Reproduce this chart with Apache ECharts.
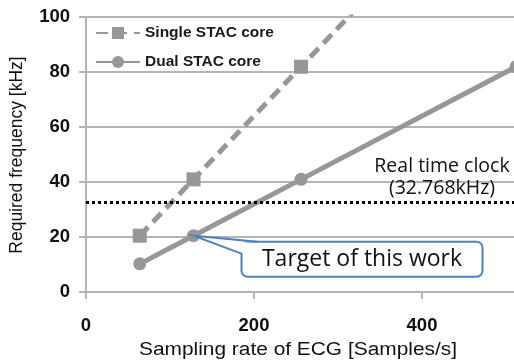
<!DOCTYPE html>
<html><head><meta charset="utf-8">
<script src="https://cdn.jsdelivr.net/npm/echarts@6/dist/echarts.min.js"></script>
<style>html,body{margin:0;padding:0;background:#fff}#c{width:514px;height:360px}</style>
</head><body><div id="c"></div>
<script>
const samplingRates = [64, 128, 256, 512];
const singleCore = [20.48, 40.96, 81.92, 163.84];
const dualCore = [10.24, 20.48, 40.96, 81.92];
const rtcFreq = 32.768;
const seriesNames = ['Single STAC core', 'Dual STAC core'];
const xTicks = [0, 200, 400, 600];
const yTicks = [0, 20, 40, 60, 80, 100];
const targetPoint = [128, 20.48];

const chart = echarts.init(document.getElementById('c'));
const gray = '#979797';
const gridCol = '#b4b4b4';
chart.setOption({
  animation: false,
  grid: { left: 86, top: 17, bottom: 68, width: 504, outerBoundsMode: 'none', containLabel: false },
  legend: {
    left: 90, top: 20, orient: 'vertical', itemGap: 13, itemWidth: 44, itemHeight: 15,
    textStyle: { fontFamily: 'Liberation Sans', fontWeight: 'bold', fontSize: 15.5, color: '#1a1a1a' },
    data: seriesNames
  },
  xAxis: {
    type: 'value', min: xTicks[0], max: xTicks[xTicks.length - 1], interval: 200,
    axisLine: { lineStyle: { color: gridCol, width: 2 } },
    axisTick: { show: true, length: 7, lineStyle: { color: gridCol, width: 2 } },
    axisLabel: { margin: 24, fontFamily: 'Liberation Sans', fontWeight: 'bold', fontSize: 18.5, color: '#111' },
    splitLine: { show: false }
  },
  yAxis: {
    type: 'value', min: yTicks[0], max: yTicks[yTicks.length - 1], interval: 20,
    axisLine: { show: true, lineStyle: { color: gridCol, width: 2 } },
    axisTick: { show: true, length: 7, lineStyle: { color: gridCol, width: 2 } },
    axisLabel: { margin: 16, fontFamily: 'Liberation Sans', fontWeight: 'bold', fontSize: 18.5, color: '#111' },
    splitLine: { show: true, lineStyle: { color: gridCol, width: 2 } }
  },
  series: [
    {
      name: seriesNames[0], type: 'line', clip: true,
      data: samplingRates.map((x, i) => [x, singleCore[i]]),
      symbol: 'rect', symbolSize: 14,
      lineStyle: { color: gray, width: 5, type: [12, 7] },
      itemStyle: { color: gray }
    },
    {
      name: seriesNames[1], type: 'line', clip: false,
      data: samplingRates.map((x, i) => [x, dualCore[i]]),
      symbol: 'circle', symbolSize: 13,
      lineStyle: { color: gray, width: 5 },
      itemStyle: { color: gray },
      markLine: {
        silent: true, symbol: 'none', label: { show: false },
        lineStyle: { color: '#000', width: 3, type: [3, 3] },
        data: [{ yAxis: rtcFreq }]
      }
    }
  ]
});

const p = chart.convertToPixel({ seriesIndex: 1 }, targetPoint);
const rtc = chart.convertToPixel({ seriesIndex: 1 }, [0, rtcFreq]);
const bx = p[0] + 48, by = p[1] + 6, bw = 241, bh = 35;
const blue = '#4f81bd';
chart.setOption({
  graphic: [
    { type: 'text', x: 298, y: 350, scaleX: 1.16, style: { text: 'Sampling rate of ECG [Samples/s]', fontFamily: 'Liberation Sans', fontSize: 18, fill: '#111', align: 'center', verticalAlign: 'middle' } },
    { type: 'text', x: 17, y: 155, rotation: Math.PI / 2, style: { text: 'Required frequency [kHz]', fontFamily: 'Liberation Sans', fontSize: 17.5, fill: '#111', align: 'center', verticalAlign: 'middle' } },
    { type: 'text', x: 442, y: rtc[1] - 24, style: { text: 'Real time clock\n(32.768kHz)', fontFamily: 'Open Sans', fontSize: 19.5, lineHeight: 22, fill: '#111', align: 'center', verticalAlign: 'middle' }, z: 10 },
    { type: 'rect', shape: { x: bx, y: by, width: bw, height: bh, r: 6 }, style: { fill: '#fff', stroke: blue, lineWidth: 2 }, z: 20 },
    { type: 'polygon', shape: { points: [[bx + 2, by + 12], [p[0], p[1]], [bx + 16, by + 2]] }, style: { fill: '#fff', stroke: null }, z: 21 },
    { type: 'polyline', shape: { points: [[bx, by + 12], [p[0], p[1]], [bx + 16, by]] }, style: { stroke: blue, lineWidth: 2, fill: null }, z: 22 },
    { type: 'text', x: bx + bw / 2, y: by + bh / 2, style: { text: 'Target of this work', fontFamily: 'Open Sans', fontSize: 23, fill: '#111', align: 'center', verticalAlign: 'middle' }, z: 23 }
  ]
});
</script></body></html>
